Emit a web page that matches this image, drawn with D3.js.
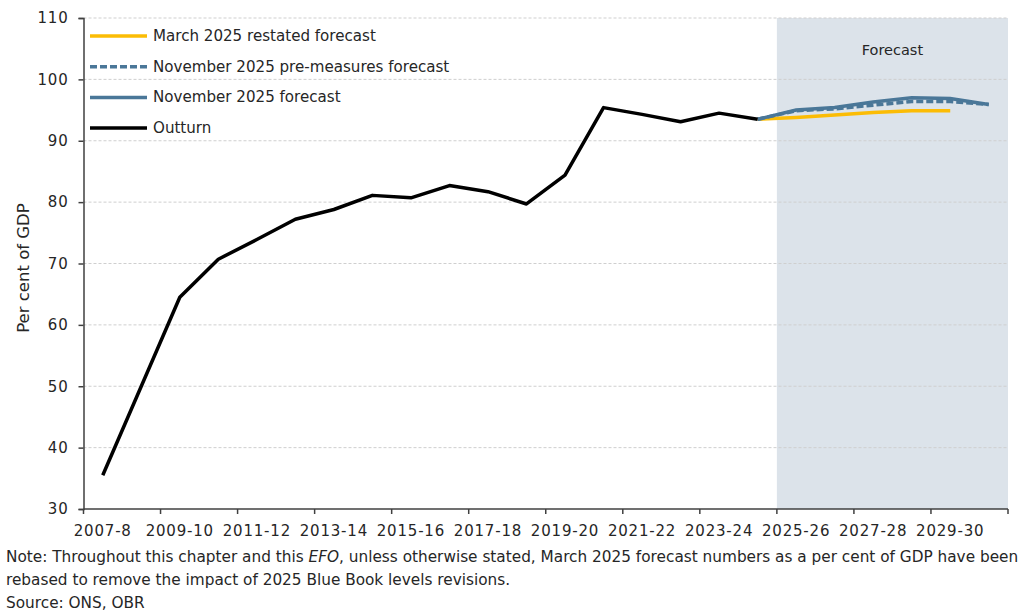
<!DOCTYPE html>
<html><head><meta charset="utf-8">
<script src="https://cdn.jsdelivr.net/npm/d3@7"></script>
<style>
body{margin:0;background:#fff;}
svg text{font-family:"DejaVu Sans",sans-serif;fill:#262626;}
</style></head>
<body><svg id="c" width="1024" height="616"></svg>
<script>
const categories = ["2007-08","2008-09","2009-10","2010-11","2011-12","2012-13","2013-14","2014-15","2015-16","2016-17","2017-18","2018-19","2019-20","2020-21","2021-22","2022-23","2023-24","2024-25","2025-26","2026-27","2027-28","2028-29","2029-30","2030-31"];
const tickLabels = ["2007-8","2009-10","2011-12","2013-14","2015-16","2017-18","2019-20","2021-22","2023-24","2025-26","2027-28","2029-30"];
const outturnYears = categories.slice(0,18);
const outturn = [35.5,50.0,64.5,70.7,73.9,77.2,78.8,81.1,80.7,82.7,81.7,79.7,84.4,95.4,94.3,93.1,94.5,93.5];
const forecastYears = ["2024-25","2025-26","2026-27","2027-28","2028-29","2029-30","2030-31"];
const nov2025 = [93.5,95.0,95.4,96.3,97.0,96.9,95.9];
const nov2025Pre = [93.5,94.9,95.2,95.8,96.4,96.4,95.9];
const march2025 = [93.5,93.8,94.2,94.6,94.9,94.9];
const yTicks = [30,40,50,60,70,80,90,100,110];

const svg = d3.select("#c");
const L=83.5, R=1008, T=18, B=509;
const x = d3.scaleBand().domain(categories).range([L,R]).padding(0);
const cx = d => x(d)+x.bandwidth()/2;
const y = d3.scaleLinear().domain([30,110]).range([B,T]);

// forecast shading
svg.append("rect").attr("x",x("2025-26")).attr("y",T).attr("width",R-x("2025-26")).attr("height",B-T).attr("fill","#dce3ea");
svg.append("text").attr("x",(x("2025-26")+R)/2).attr("y",55).attr("text-anchor","middle").attr("font-size",14.5).text("Forecast");

// gridlines
svg.append("g").selectAll("line").data(yTicks.filter(d=>d>30)).join("line")
  .attr("x1",L).attr("x2",R).attr("y1",d=>y(d)).attr("y2",d=>y(d))
  .attr("stroke","#cfcfcf").attr("stroke-width",1).attr("stroke-dasharray","3,2");

// y axis
const ya = svg.append("g").attr("transform",`translate(${L},0)`).call(d3.axisLeft(y).tickValues(yTicks).tickSize(5).tickPadding(10));
ya.select(".domain").attr("stroke","#404040").attr("stroke-width",1.5);
ya.selectAll(".tick line").attr("stroke","#404040").attr("stroke-width",1.5);
ya.selectAll("text").attr("font-size",15).attr("font-family","DejaVu Sans").attr("letter-spacing",0.8).attr("fill","#262626");

// x axis
const xa = svg.append("g").attr("transform",`translate(0,${B})`);
xa.append("line").attr("x1",L).attr("x2",R).attr("y1",0).attr("y2",0).attr("stroke","#404040").attr("stroke-width",1.5);
const bounds = d3.range(0,categories.length+1,2).map(i=> i<categories.length ? x(categories[i]) : R);
xa.selectAll("line.t").data(bounds).join("line").attr("class","t")
  .attr("x1",d=>d).attr("x2",d=>d).attr("y1",0).attr("y2",5).attr("stroke","#404040").attr("stroke-width",1.5);
xa.selectAll("text").data(tickLabels).join("text")
  .attr("x",(d,i)=>cx(categories[i*2])).attr("y",27).attr("text-anchor","middle").attr("font-size",15).attr("letter-spacing",0.8).text(d=>d);

// y title
svg.append("text").attr("transform","translate(29,268) rotate(-90)").attr("text-anchor","middle").attr("font-size",16.5).text("Per cent of GDP");

const line = d3.line().x(d=>cx(d[0])).y(d=>y(d[1]));
const zip=(a,b)=>a.map((d,i)=>[d,b[i]]);
svg.append("path").datum(zip(forecastYears.slice(0,march2025.length),march2025)).attr("d",line).attr("fill","none").attr("stroke","#fbbc05").attr("stroke-width",3.5);
svg.append("path").datum(zip(forecastYears,nov2025)).attr("d",line).attr("fill","none").attr("stroke","#4a7798").attr("stroke-width",3.5);
svg.append("path").datum(zip(forecastYears,nov2025Pre)).attr("d",line).attr("fill","none").attr("stroke","#4a7798").attr("stroke-width",3.5).attr("stroke-dasharray","7,3");
svg.append("path").datum(zip(outturnYears,outturn)).attr("d",line).attr("fill","none").attr("stroke","#000").attr("stroke-width",3.5).attr("stroke-linejoin","round");

// legend
const legend = [
 {name:"March 2025 restated forecast", color:"#fbbc05", dash:null},
 {name:"November 2025 pre-measures forecast", color:"#4a7798", dash:"7,3"},
 {name:"November 2025 forecast", color:"#4a7798", dash:null},
 {name:"Outturn", color:"#000", dash:null}];
const lg = svg.append("g");
legend.forEach((d,i)=>{
  const yy = 36 + i*30.7;
  lg.append("line").attr("x1",90).attr("x2",147).attr("y1",yy).attr("y2",yy).attr("stroke",d.color).attr("stroke-width",3.5).attr("stroke-dasharray",d.dash);
  lg.append("text").attr("x",153).attr("y",yy+5).attr("font-size",15.1).text(d.name);
});

// notes
const notes = svg.append("g").attr("font-size",15.3);
const t1 = notes.append("text").attr("x",6).attr("y",562);
t1.append("tspan").text("Note: Throughout this chapter and this ");
t1.append("tspan").attr("font-style","italic").text("EFO");
t1.append("tspan").text(", unless otherwise stated, March 2025 forecast numbers as a per cent of GDP have been");
notes.append("text").attr("x",6).attr("y",585).text("rebased to remove the impact of 2025 Blue Book levels revisions.");
notes.append("text").attr("x",6).attr("y",608).text("Source: ONS, OBR");
</script></body></html>
